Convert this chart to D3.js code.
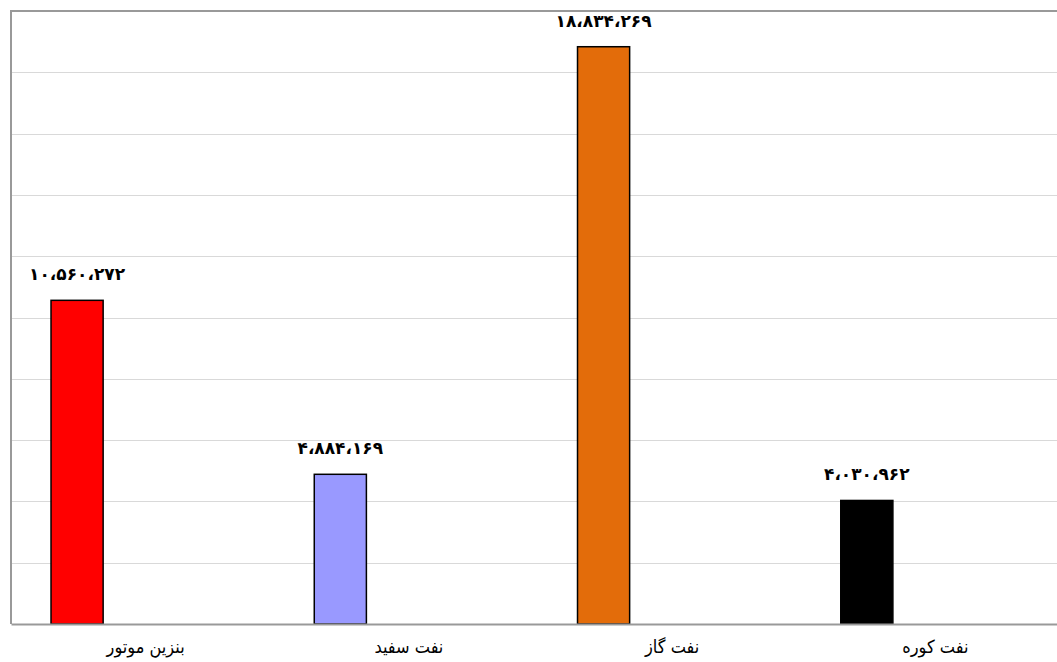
<!DOCTYPE html>
<html><head><meta charset="utf-8">
<script src="https://cdn.jsdelivr.net/npm/d3@7"></script>
<style>body{margin:0;background:#fff}svg{display:block}</style>
</head><body>
<svg id="c" width="1057" height="662"></svg>
<script>
const categories = ["بنزین موتور", "نفت سفید", "نفت گاز", "نفت کوره"];
const values = [10560272, 4884169, 18834269, 4030962];
const colors = ["#FF0000", "#9999FF", "#E36C0A", "#000000"];
const yTicks = [0, 2000000, 4000000, 6000000, 8000000, 10000000, 12000000, 14000000, 16000000, 18000000, 20000000];

const svg = d3.select("#c");
const m = {left: 11, top: 11, right: -7, bottom: 38};
const W = 1057, H = 662;
const x = d3.scaleBand().domain(categories).range([m.left, W - m.right]);
const y = d3.scaleLinear().domain([0, 20000000]).range([H - m.bottom, m.top]);

const fa = n => d3.format(",")(n).replace(/,/g, "،").replace(/\d/g, d => "۰۱۲۳۴۵۶۷۸۹"[d]);

// gridlines
svg.append("g").selectAll("line").data(yTicks.slice(1, -1)).join("line")
  .attr("x1", m.left).attr("x2", W)
  .attr("y1", d => Math.round(y(d)) + 0.5).attr("y2", d => Math.round(y(d)) + 0.5)
  .attr("stroke", "#d9d9d9").attr("stroke-width", 1);

// frame
svg.append("line").attr("x1", m.left).attr("x2", W).attr("y1", y(20000000)).attr("y2", y(20000000))
  .attr("stroke", "#999").attr("stroke-width", 2);
svg.append("line").attr("x1", m.left).attr("x2", m.left).attr("y1", y(20000000) - 1).attr("y2", y(0))
  .attr("stroke", "#999").attr("stroke-width", 2);

const bw = x.bandwidth();
const barOff = bw * 0.152, barW = bw * 0.198;

svg.append("g").selectAll("rect").data(values).join("rect")
  .attr("x", (d, i) => x(categories[i]) + barOff)
  .attr("y", d => y(d))
  .attr("width", barW)
  .attr("height", d => y(0) - y(d))
  .attr("fill", (d, i) => colors[i])
  .attr("stroke", "#000").attr("stroke-width", 1.5);

// bottom axis
const xAxis = svg.append("g").attr("transform", `translate(0,${y(0)})`)
  .call(d3.axisBottom(x).tickSize(0).tickPadding(16));
xAxis.select(".domain").attr("stroke", "#999").attr("stroke-width", 2);
xAxis.selectAll("text").attr("font-family", "'DejaVu Sans Condensed','DejaVu Sans',sans-serif")
  .attr("font-size", 18).attr("fill", "#000").attr("dx", 3).attr("direction", "rtl").attr("text-anchor", "middle");

// value labels
svg.append("g").selectAll("text").data(values).join("text")
  .attr("x", (d, i) => x(categories[i]) + barOff + barW / 2)
  .attr("y", d => y(d) - 20)
  .attr("text-anchor", "middle")
  .attr("font-family", "'DejaVu Sans',sans-serif")
  .attr("font-weight", "bold").attr("font-size", 17)
  .attr("fill", "#000")
  .text(d => fa(d));
</script>
</body></html>
